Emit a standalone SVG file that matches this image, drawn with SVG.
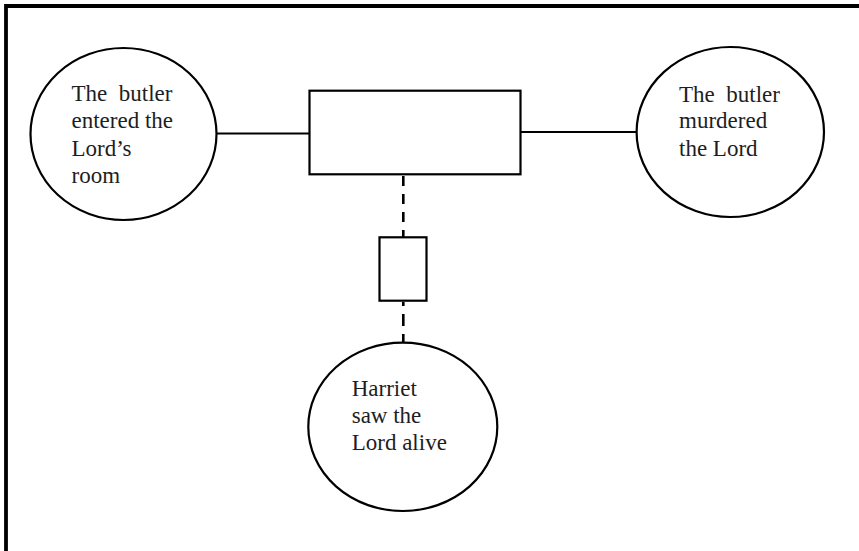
<svg xmlns="http://www.w3.org/2000/svg" width="859" height="551" viewBox="0 0 859 551">
<style>
.node{fill:#fff;stroke:#000;stroke-width:2.2}
.lbl{font-family:"Liberation Serif","Times New Roman",serif;font-size:23px;fill:#1e1e1e}
.solid{stroke:#000;stroke-width:2;fill:none}
.dash{stroke:#000;stroke-width:2.6;fill:none;stroke-dasharray:10 8}
</style>
<rect x="0" y="0" width="859" height="551" fill="#fff"/>
<g id="frame"><path d="M6,551 V6 H859" fill="none" stroke="#000" stroke-width="3.8"/></g>
<g id="connectors">
<line class="solid" x1="217" y1="133.5" x2="309.5" y2="133.5"/>
<line class="solid" x1="520.5" y1="132" x2="637" y2="132"/>
<line class="dash" x1="403.3" y1="176" x2="403.3" y2="237"/>
<line class="dash" x1="403.3" y1="302" x2="403.3" y2="342.5" style="stroke-dasharray:4 8 12 8 10"/>
</g>
<g id="n-entered">
<ellipse class="node" cx="123.5" cy="134" rx="93" ry="86"/>
<text class="lbl" xml:space="preserve"><tspan x="71.5" y="100.7">The  butler</tspan><tspan x="71.5" y="128.3">entered the</tspan><tspan x="71.5" y="156">Lord’s</tspan><tspan x="71.5" y="182.7">room</tspan></text>
</g>
<g id="n-link"><rect class="node" x="309.5" y="90.7" width="211" height="83.6"/></g>
<g id="n-small"><rect class="node" x="379.5" y="237.3" width="47" height="63.4"/></g>
<g id="n-murdered">
<ellipse class="node" cx="730.3" cy="132" rx="93.7" ry="85"/>
<text class="lbl" xml:space="preserve"><tspan x="679" y="101.7">The  butler</tspan><tspan x="679" y="128.3">murdered</tspan><tspan x="679" y="155.7">the Lord</tspan></text>
</g>
<g id="n-harriet">
<ellipse class="node" cx="402.8" cy="426.8" rx="94.5" ry="84.2"/>
<text class="lbl"><tspan x="351.7" y="395.7">Harriet</tspan><tspan x="351.7" y="422.7">saw the</tspan><tspan x="351.7" y="450">Lord alive</tspan></text>
</g>
</svg>
